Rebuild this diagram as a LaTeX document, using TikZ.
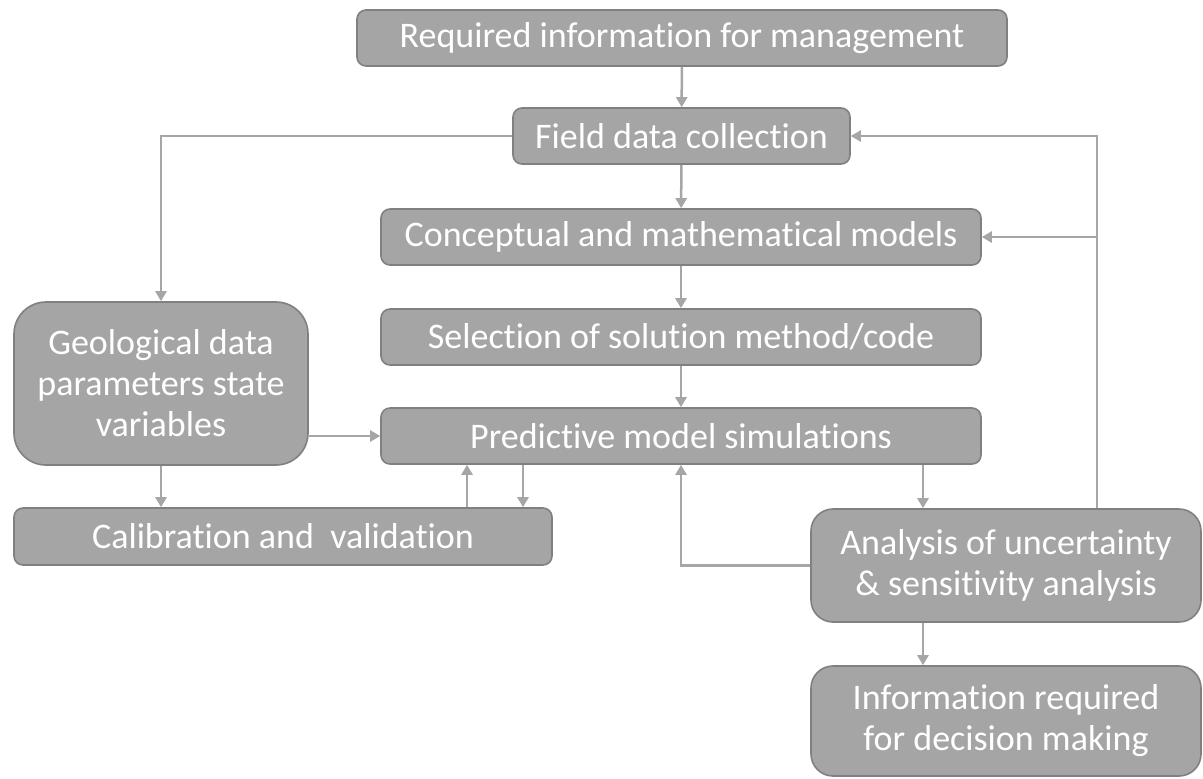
\documentclass[tikz,border=0pt]{standalone}
\usepackage{fontspec}
\setmainfont{Carlito}[RawFeature=-liga]
\usetikzlibrary{arrows.meta}
\definecolor{boxfill}{HTML}{A5A5A5}
\definecolor{boxdraw}{HTML}{808080}
\definecolor{linegray}{HTML}{A6A6A6}
\begin{document}
\begin{tikzpicture}[x=0.5pt,y=-0.5pt,
  box/.style={draw=boxdraw, line width=0.8pt, fill=boxfill, rounded corners=4.5pt,
    text=white, align=center, inner sep=0pt, font=\fontsize{18}{20.5}\selectfont},
  arr/.style={draw=linegray, line width=1.25pt, -{Triangle[length=5pt,width=5.5pt]}},
  ln/.style={draw=linegray, line width=1.25pt}]
\useasboundingbox (0,0) rectangle (1203,778);
\node[box, minimum width=325pt, minimum height=28pt] (req) at (682,38) {Required information for management};
\node[box, minimum width=168.5pt, minimum height=28pt] (field) at (681.5,136) {Field data collection};
\node[box, minimum width=300pt, minimum height=28pt] (concept) at (681,237) {Conceptual and mathematical models};
\node[box, minimum width=300pt, minimum height=28pt] (select) at (681,337) {Selection of solution method/code};
\node[box, minimum width=300pt, minimum height=28pt] (pred) at (681,436) {Predictive model simulations};
\node[box, rounded corners=16pt, minimum width=147pt, minimum height=81.5pt] (geo) at (161,383.5) {Geological data\\parameters state\\variables};
\node[box, minimum width=269pt, minimum height=28.5pt] (calib) at (283,536.5) {Calibration and\ \ validation};
\node[box, rounded corners=11pt, minimum width=195pt, minimum height=56.5pt] (anal) at (1006,565.5) {Analysis of uncertainty\\\& sensitivity analysis};
\node[box, rounded corners=11pt, minimum width=195pt, minimum height=55pt] (info) at (1006,721) {Information required\\for decision making};

\draw[arr] (req) -- (field);
\draw[arr] (field) -- (concept);
\draw[arr] (concept) -- (select);
\draw[arr] (select) -- (pred);
\draw[arr] (field.west) -| (geo.north);
\draw[arr] (geo.east |- pred.west) -- (pred.west);
\draw[arr] (geo.south) -- (calib.north -| geo.south);
\draw[arr] (calib.north -| 467,0) -- (pred.south -| 467,0);
\draw[arr] (pred.south -| 523,0) -- (calib.north -| 523,0);
\draw[arr] (pred.south -| 923,0) -- (anal.north -| 923,0);
\draw[arr] (anal.west) -| (pred.south);
\draw[arr] (anal.north -| 1097,0) |- (field.east);
\draw[arr] (concept.east -| 1097,0) -- (concept.east);
\draw[arr] (anal.south -| 923,0) -- (info.north -| 923,0);
\end{tikzpicture}
\end{document}
